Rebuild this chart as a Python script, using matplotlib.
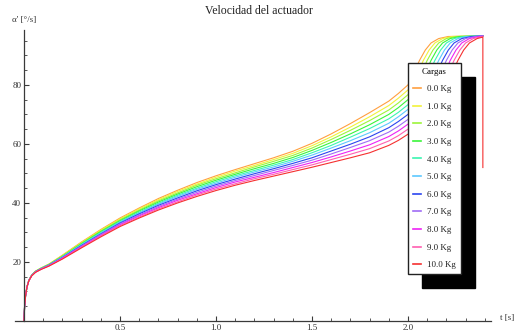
import matplotlib
matplotlib.use("Agg")
import matplotlib.pyplot as plt
from matplotlib.ticker import FixedLocator

plt.rcParams['font.family'] = ['Liberation Serif', 'DejaVu Serif']

# Load cases (kg)
loads = [0.0, 1.0, 2.0, 3.0, 4.0, 5.0, 6.0, 7.0, 8.0, 9.0, 10.0]
labels = [f"{c:.1f} Kg" for c in loads]

# Shared time samples for the first part of the motion [s]
body_t = [0, 0.003, 0.008, 0.015, 0.025, 0.04, 0.06, 0.09, 0.13, 0.2, 0.3,
          0.4, 0.5, 0.6, 0.7, 0.8, 0.9, 1.0, 1.1, 1.2, 1.3, 1.4, 1.5, 1.6, 1.7, 1.8]

# Angular speed [deg/s] on the shared samples, one list per load
body_v = [
    [0, 5.0, 8.5, 11.5, 13.8, 15.6, 16.9, 18.0, 19.3, 22.3, 26.8, 31.0, 34.9, 38.3, 41.5, 44.3, 46.9, 49.2, 51.3, 53.3, 55.3, 57.5, 60.2, 63.4, 66.9, 70.6],
    [0, 5.0, 8.5, 11.5, 13.8, 15.6, 16.9, 18.0, 19.2, 22.2, 26.6, 30.8, 34.6, 38.0, 41.1, 43.9, 46.4, 48.7, 50.8, 52.7, 54.7, 56.8, 59.4, 62.4, 65.7, 69.2],
    [0, 5.0, 8.5, 11.5, 13.8, 15.5, 16.8, 17.9, 19.2, 22.0, 26.4, 30.5, 34.3, 37.6, 40.7, 43.4, 46.0, 48.2, 50.2, 52.2, 54.1, 56.1, 58.6, 61.5, 64.6, 67.9],
    [0, 5.0, 8.5, 11.5, 13.7, 15.5, 16.8, 17.9, 19.1, 21.9, 26.2, 30.3, 34.0, 37.3, 40.3, 43.0, 45.5, 47.7, 49.7, 51.6, 53.4, 55.4, 57.8, 60.5, 63.4, 66.5],
    [0, 5.0, 8.5, 11.5, 13.7, 15.5, 16.7, 17.8, 19.0, 21.8, 26.0, 30.0, 33.7, 36.9, 39.9, 42.6, 45.0, 47.2, 49.2, 51.0, 52.8, 54.7, 57.0, 59.5, 62.3, 65.2],
    [0, 5.0, 8.5, 11.5, 13.7, 15.5, 16.7, 17.8, 19.0, 21.7, 25.8, 29.8, 33.5, 36.6, 39.6, 42.2, 44.6, 46.7, 48.7, 50.5, 52.2, 54.1, 56.2, 58.6, 61.1, 63.8],
    [0, 5.0, 8.5, 11.4, 13.7, 15.4, 16.7, 17.7, 18.9, 21.5, 25.6, 29.5, 33.2, 36.3, 39.2, 41.7, 44.1, 46.2, 48.1, 49.9, 51.6, 53.4, 55.3, 57.6, 59.9, 62.4],
    [0, 5.0, 8.5, 11.4, 13.7, 15.4, 16.6, 17.7, 18.8, 21.4, 25.4, 29.3, 32.9, 35.9, 38.8, 41.3, 43.6, 45.7, 47.6, 49.3, 51.0, 52.7, 54.5, 56.6, 58.8, 61.1],
    [0, 5.0, 8.5, 11.4, 13.6, 15.4, 16.6, 17.6, 18.7, 21.3, 25.2, 29.0, 32.6, 35.6, 38.4, 40.9, 43.1, 45.2, 47.1, 48.7, 50.3, 52.0, 53.7, 55.6, 57.6, 59.7],
    [0, 5.0, 8.5, 11.4, 13.6, 15.3, 16.5, 17.6, 18.7, 21.1, 25.0, 28.8, 32.3, 35.2, 38.0, 40.4, 42.7, 44.7, 46.5, 48.2, 49.7, 51.3, 52.9, 54.7, 56.5, 58.4],
    [0, 5.0, 8.5, 11.4, 13.6, 15.3, 16.5, 17.5, 18.6, 21.0, 24.8, 28.5, 32.0, 34.9, 37.6, 40.0, 42.2, 44.2, 46.0, 47.6, 49.1, 50.6, 52.1, 53.7, 55.3, 57.0],
]

# Final acceleration phase, individual per load
tail_t = [
    [1.9, 1.95, 2.0, 2.03, 2.06, 2.09, 2.12, 2.16, 2.21, 2.39],
    [1.9, 1.95, 2.0, 2.02, 2.05, 2.08, 2.11, 2.14, 2.18, 2.23, 2.39],
    [1.9, 1.95, 2.0, 2.04, 2.07, 2.10, 2.13, 2.16, 2.20, 2.25, 2.39],
    [1.9, 1.95, 2.0, 2.06, 2.09, 2.12, 2.15, 2.18, 2.22, 2.27, 2.39],
    [1.9, 1.95, 2.0, 2.04, 2.08, 2.11, 2.14, 2.17, 2.20, 2.24, 2.29, 2.39],
    [1.9, 1.95, 2.0, 2.05, 2.10, 2.13, 2.16, 2.19, 2.22, 2.26, 2.31, 2.39],
    [1.9, 1.95, 2.0, 2.06, 2.12, 2.15, 2.18, 2.21, 2.24, 2.28, 2.33, 2.39],
    [1.9, 1.95, 2.0, 2.05, 2.10, 2.14, 2.17, 2.20, 2.23, 2.26, 2.30, 2.35, 2.39],
    [1.9, 1.95, 2.0, 2.05, 2.10, 2.16, 2.19, 2.22, 2.25, 2.28, 2.32, 2.37, 2.39],
    [1.9, 1.95, 2.0, 2.05, 2.10, 2.14, 2.18, 2.21, 2.24, 2.27, 2.30, 2.34, 2.39],
    [1.9, 1.95, 2.0, 2.05, 2.10, 2.15, 2.20, 2.23, 2.26, 2.29, 2.32, 2.36, 2.39, 2.39],
]
tail_v = [
    [74.5, 77.1, 80.0, 84.0, 88.3, 91.8, 94.2, 95.7, 96.4, 96.6],
    [73.0, 75.5, 78.3, 80.0, 84.0, 88.3, 91.8, 94.2, 95.7, 96.4, 96.6],
    [71.5, 73.9, 76.7, 80.0, 84.0, 88.3, 91.8, 94.2, 95.7, 96.4, 96.6],
    [70.0, 72.3, 75.0, 80.0, 84.0, 88.3, 91.8, 94.2, 95.7, 96.4, 96.6],
    [68.5, 70.7, 73.3, 76.5, 80.0, 84.0, 88.3, 91.8, 94.2, 95.7, 96.4, 96.6],
    [67.0, 69.2, 71.7, 75.5, 80.0, 84.0, 88.3, 91.8, 94.2, 95.7, 96.4, 96.6],
    [65.5, 67.6, 70.0, 74.6, 80.0, 84.0, 88.3, 91.8, 94.2, 95.7, 96.4, 96.6],
    [64.0, 66.0, 68.3, 71.8, 76.2, 80.0, 84.0, 88.3, 91.8, 94.2, 95.7, 96.4, 96.6],
    [62.5, 64.4, 66.7, 69.8, 73.8, 80.0, 84.0, 88.3, 91.8, 94.2, 95.7, 96.4, 96.5],
    [61.0, 62.8, 65.0, 67.8, 71.6, 75.5, 80.0, 84.0, 88.3, 91.8, 94.2, 95.7, 96.4],
    [59.5, 61.2, 63.3, 66.3, 70.0, 74.5, 80.0, 84.0, 88.3, 91.8, 94.2, 95.7, 96.2, 52.0],
]

colors = ['#ff9f3f', '#f2f23a', '#9cf53a', '#3af53a', '#3af5b0', '#5cc8ff',
          '#2b45f0', '#a06cf5', '#ee22f5', '#ff5fb0', '#f53030']

W, H = 514, 331
fig = plt.figure(figsize=(W / 100, H / 100), dpi=100)
ax = fig.add_axes([15 / W, 10 / H, 476.5 / W, 291 / H])

for k in range(len(loads)):
    ax.plot(body_t + tail_t[k], body_v[k] + tail_v[k], color=colors[k],
            lw=0.8, label=labels[k], solid_joinstyle='round')

ax.set_xlim(-0.047, 2.435)
ax.set_ylim(0, 98.6)

axis_col = '#3a3a3a'
for s in ['top', 'right']:
    ax.spines[s].set_visible(False)
ax.spines['left'].set_position(('data', 0))
ax.spines['bottom'].set_position(('data', 0))
for s in ['left', 'bottom']:
    ax.spines[s].set_color(axis_col)
    ax.spines[s].set_linewidth(0.9)

ax.xaxis.set_major_locator(FixedLocator([0.5, 1.0, 1.5, 2.0]))
ax.xaxis.set_minor_locator(FixedLocator([0.1, 0.2, 0.3, 0.4, 0.6, 0.7, 0.8, 0.9, 1.1, 1.2,
                                         1.3, 1.4, 1.6, 1.7, 1.8, 1.9, 2.1, 2.2, 2.3, 2.4]))
ax.yaxis.set_major_locator(FixedLocator([20, 40, 60, 80]))
ax.yaxis.set_minor_locator(FixedLocator([5, 10, 15, 25, 30, 35, 45, 50, 55, 65, 70,
                                         75, 85, 90, 95]))
ax.set_xticklabels(['0.5', '1.0', '1.5', '2.0'])
ax.set_yticklabels(['20', '40', '60', '80'])
ax.tick_params(which='major', direction='in', length=3.5, width=0.8,
               color=axis_col, labelsize=6.5, labelcolor='#333333', pad=2)
ax.tick_params(which='minor', direction='in', length=2, width=0.6, color=axis_col)

fig.text(259 / W, 1 - 11 / H, "Velocidad del actuador", ha='center', va='center',
         fontsize=8.5, color='#222222')
fig.text(12 / W, 1 - 20 / H, "α' [°/s]", ha='left', va='center',
         fontsize=6.5, color='#333333')
fig.text(500 / W, 1 - 318 / H, "t [s]", ha='left', va='center',
         fontsize=6.5, color='#333333')

leg = ax.legend(loc='upper left', bbox_to_anchor=(408 / W, 1 - 63 / H),
                bbox_transform=fig.transFigure, borderaxespad=0,
                title='Cargas', title_fontsize=6.5, fontsize=6.5,
                fancybox=False, framealpha=1, edgecolor='#222222',
                handlelength=0.9, handletextpad=0.75, labelspacing=1.03,
                borderpad=0.5,
                shadow={'color': 'black', 'alpha': 1, 'ox': 10, 'oy': -10})
leg.get_frame().set_linewidth(1.0)
for line in leg.get_lines():
    line.set_linewidth(1.2)
for t in leg.get_texts():
    t.set_color('#222222')

fig.savefig('out.png', dpi=100)
